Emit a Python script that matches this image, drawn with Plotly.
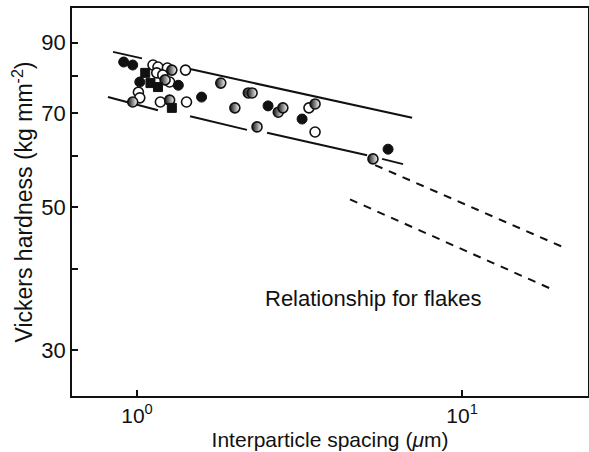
import numpy as np
import plotly.graph_objects as go

# ---- data ----
filled_circle_x = [0.91, 0.97, 1.58, 2.53, 3.22, 5.92, 1.02, 1.34]
filled_circle_y = [84.0, 83.1, 74.1, 71.8, 68.5, 61.5, 78.2, 77.3]

filled_square_x = [1.06, 1.10, 1.16, 1.28]
filled_square_y = [80.8, 77.9, 76.8, 71.3]

open_circle_x = [1.12, 1.16, 1.24, 1.41, 1.15, 1.20, 1.26, 1.01, 1.02, 1.18, 1.42, 3.53, 3.38]
open_circle_y = [83.1, 82.5, 82.2, 81.6, 80.8, 80.2, 78.2, 75.4, 73.9, 72.8, 72.8, 65.4, 71.3]

half_circle_x = [1.28, 1.22, 1.81, 2.20, 2.26, 2.00, 2.72, 2.81, 2.34, 3.53, 5.32, 0.97, 1.26]
half_circle_y = [81.6, 78.8, 77.9, 75.2, 75.2, 71.3, 70.2, 71.3, 66.6, 72.3, 59.4, 72.8, 73.3]

# upper solid bound (segments separated by None)
upper_x = [0.844, 1.036, None, 1.456, 7.02]
upper_y = [87.1, 85.1, None, 81.9, 68.8]

# lower solid bound (broken segments)
lower_x = [0.814, 1.160, None, 1.456, 2.180, None, 2.512, 5.103, None, 5.674, 6.584]
lower_y = [74.1, 70.7, None, 69.2, 65.9, None, 65.2, 60.2, None, 59.4, 58.3]

# relationship for flakes (dashed)
flake_upper_x = [5.40, 20.3]
flake_upper_y = [58.1, 43.4]
flake_lower_x = [4.52, 19.05]
flake_lower_y = [51.4, 37.2]

x_tickvals = [1, 10]
x_ticktext = ["10<sup>0</sup>", "10<sup>1</sup>"]
y_tickvals = [30, 40, 50, 60, 70, 80, 90]
y_ticktext = ["30", "", "50", "", "70", "", "90"]

INK = "#111111"
FONT = "Liberation Sans, Arial, Helvetica, sans-serif"

fig = go.Figure()

line_style = dict(color=INK, width=2)
fig.add_trace(go.Scatter(x=upper_x, y=upper_y, mode="lines", line=line_style,
                         connectgaps=False, showlegend=False, hoverinfo="skip"))
fig.add_trace(go.Scatter(x=lower_x, y=lower_y, mode="lines", line=line_style,
                         connectgaps=False, showlegend=False, hoverinfo="skip"))
dash_style = dict(color=INK, width=2, dash="8px,7px")
fig.add_trace(go.Scatter(x=flake_upper_x, y=flake_upper_y, mode="lines", line=dash_style,
                         showlegend=False, hoverinfo="skip"))
fig.add_trace(go.Scatter(x=flake_lower_x, y=flake_lower_y, mode="lines", line=dash_style,
                         showlegend=False, hoverinfo="skip"))

fig.add_trace(go.Scatter(x=open_circle_x, y=open_circle_y, mode="markers",
                         marker=dict(symbol="circle", size=10, color="white",
                                     line=dict(color=INK, width=1.6)),
                         showlegend=False))
fig.add_trace(go.Scatter(x=half_circle_x, y=half_circle_y, mode="markers",
                         marker=dict(symbol="circle", size=10, color=INK,
                                     gradient=dict(type="horizontal", color="white"),
                                     line=dict(color=INK, width=1.6)),
                         showlegend=False))
fig.add_trace(go.Scatter(x=filled_circle_x, y=filled_circle_y, mode="markers",
                         marker=dict(symbol="circle", size=10, color=INK,
                                     line=dict(color=INK, width=1)),
                         showlegend=False))
fig.add_trace(go.Scatter(x=filled_square_x, y=filled_square_y, mode="markers",
                         marker=dict(symbol="square", size=9, color=INK,
                                     line=dict(color=INK, width=1)),
                         showlegend=False))

fig.add_annotation(x=np.log10(2.443), y=np.log10(36.1), xref="x", yref="y",
                   text="Relationship for flakes", showarrow=False,
                   xanchor="left", yanchor="middle",
                   font=dict(family=FONT, size=22, color=INK))

fig.update_layout(
    width=589, height=452,
    margin=dict(l=72, r=1, t=8, b=56),
    paper_bgcolor="white", plot_bgcolor="white",
    font=dict(family=FONT, color=INK),
    xaxis=dict(type="log", range=[np.log10(0.631), np.log10(24.4)],
               tickvals=x_tickvals, ticktext=x_ticktext,
               ticks="inside", ticklen=6, tickwidth=1.5, tickcolor=INK,
               showgrid=False, zeroline=False, automargin=False,
               showline=True, linecolor=INK, linewidth=1.5, mirror=True,
               tickfont=dict(family=FONT, size=21, color=INK),
               title=dict(text="Interparticle spacing (<i>μ</i>m)", standoff=6,
                          font=dict(family=FONT, size=21, color=INK))),
    yaxis=dict(type="log", range=[np.log10(25.44), np.log10(101.9)],
               tickvals=y_tickvals, ticktext=y_ticktext,
               ticks="inside", ticklen=6, tickwidth=1.5, tickcolor=INK,
               showgrid=False, zeroline=False, automargin=False,
               showline=True, linecolor=INK, linewidth=1.5, mirror=True,
               tickfont=dict(family=FONT, size=22, color=INK),
               title=dict(text="Vickers hardness (kg mm<sup>-2</sup>)", standoff=2,
                          font=dict(family=FONT, size=23, color=INK))),
)

fig.write_html("out.html", config={"displayModeBar": False},
               post_script="document.body.style.margin='0';document.body.style.padding='0';")
